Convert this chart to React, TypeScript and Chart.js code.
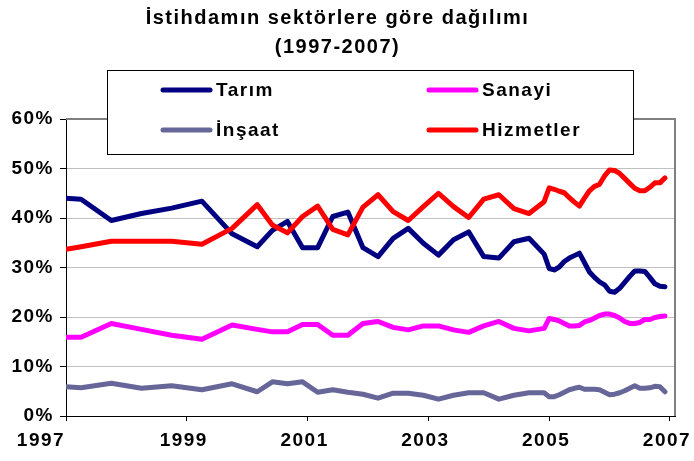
import React, { useEffect, useRef } from 'react';
import { Chart, registerables } from 'chart.js';

Chart.register(...registerables);

const FONT = "'Liberation Sans', Arial, Helvetica, sans-serif";

const titleLines = ['İstihdamın sektörlere göre dağılımı', '(1997-2007)'];

const periods = [
  '1997-01', '1997-04', '1997-10', '1998-04', '1998-10', '1999-04', '1999-10',
  '2000-03', '2000-06', '2000-09', '2000-12',
  '2001-03', '2001-06', '2001-09', '2001-12',
  '2002-03', '2002-06', '2002-09', '2002-12',
  '2003-03', '2003-06', '2003-09', '2003-12',
  '2004-03', '2004-06', '2004-09', '2004-12',
  '2005-01', '2005-02', '2005-03', '2005-04', '2005-05', '2005-06',
  '2005-07', '2005-08', '2005-09', '2005-10', '2005-11', '2005-12',
  '2006-01', '2006-02', '2006-03', '2006-04', '2006-05', '2006-06',
  '2006-07', '2006-08', '2006-09', '2006-10', '2006-11', '2006-12',
];

const tarim = [
  44.0, 43.8, 39.5, 40.9, 42.0, 43.4, 36.8,
  34.2, 37.5, 39.3, 34.0,
  34.0, 40.3, 41.2, 34.0,
  32.2, 35.9, 37.9, 34.9,
  32.5, 35.6, 37.2, 32.2,
  31.9, 35.2, 35.9, 32.7,
  29.8, 29.5, 30.1, 31.2, 31.9, 32.4, 32.9, 31.0, 29.1, 28.0, 27.1, 26.5,
  25.2, 25.0, 25.8, 27.0, 28.2, 29.3, 29.3, 29.2, 28.0, 26.7, 26.2, 26.1,
];

const sanayi = [
  15.9, 15.9, 18.7, 17.5, 16.3, 15.5, 18.4,
  17.5, 17.0, 17.0, 18.5,
  18.5, 16.3, 16.3, 18.7,
  19.1, 17.9, 17.4, 18.2,
  18.2, 17.4, 16.9, 18.2,
  19.1, 17.7, 17.2, 17.7,
  19.7, 19.5, 19.2, 18.7, 18.2, 18.2, 18.3, 19.0, 19.3, 19.8, 20.3, 20.6,
  20.6, 20.3, 19.8, 19.1, 18.7, 18.7, 18.9, 19.5, 19.5, 19.9, 20.1, 20.2,
];

const insaat = [
  5.9, 5.7, 6.6, 5.6, 6.1, 5.3, 6.5,
  4.9, 6.9, 6.5, 6.9,
  4.8, 5.3, 4.8, 4.4,
  3.6, 4.6, 4.6, 4.2,
  3.4, 4.2, 4.7, 4.7,
  3.4, 4.2, 4.7, 4.7,
  3.9, 3.9, 4.3, 4.8, 5.3, 5.6, 5.8, 5.4, 5.4, 5.4, 5.3, 4.8,
  4.3, 4.4, 4.7, 5.1, 5.6, 6.1, 5.6, 5.6, 5.7, 6.0, 5.9, 4.9,
];

const hizmetler = [
  33.7, 34.2, 35.3, 35.3, 35.3, 34.7, 37.9,
  42.7, 38.6, 37.0, 40.3,
  42.4, 37.7, 36.6, 42.2,
  44.7, 41.3, 39.5, 42.3,
  45.0, 42.3, 40.1, 43.8,
  44.7, 41.9, 40.9, 43.3,
  46.1, 45.8, 45.4, 45.1, 44.1, 43.2, 42.4, 44.0, 45.5, 46.4, 46.8, 48.5,
  49.7, 49.6, 49.0, 48.0, 47.0, 46.0, 45.5, 45.5, 46.2, 47.1, 47.1, 48.1,
];

const seriesNames = ['Tarım', 'Sanayi', 'İnşaat', 'Hizmetler'];
const seriesColors = ['#000080', '#FF00FF', '#666699', '#FF0000'];
const xTickYears = [1997, 1999, 2001, 2003, 2005, 2007];
const yTicks = [0, 10, 20, 30, 40, 50, 60];

const toYear = (p: string) => {
  const [y, m] = p.split('-').map(Number);
  return y + (m - 1) / 12;
};

const toPoints = (vals: number[]) => vals.map((v, i) => ({ x: toYear(periods[i]), y: v }));

const frameAndLegend = {
  id: 'frameAndLegend',
  beforeDraw(chart: any) {
    const ctx = chart.ctx;
    try { ctx.letterSpacing = '1.5px'; } catch (e) {}
    try {
      const xs = chart.scales.x;
      const items = xs.getLabelItems();
      if (items && items[0] && !items[0].__shifted) {
        items[0].options.translation[0] -= 22;
        items[0].__shifted = true;
      }
    } catch (e) {}
  },
  afterDatasetsDraw(chart: any) {
    const { ctx, chartArea: a } = chart;
    ctx.save();
    ctx.strokeStyle = '#808080';
    ctx.lineWidth = 2;
    ctx.beginPath();
    ctx.moveTo(a.left, a.top);
    ctx.lineTo(a.right, a.top);
    ctx.lineTo(a.right, a.bottom);
    ctx.stroke();
    ctx.restore();
  },
  afterDraw(chart: any) {
    const ctx = chart.ctx;
    const bx = 107, by = 70, bw = 526, bh = 84;
    ctx.save();
    ctx.fillStyle = '#ffffff';
    ctx.fillRect(bx, by, bw, bh);
    ctx.strokeStyle = '#000000';
    ctx.lineWidth = 1;
    ctx.strokeRect(bx + 0.5, by + 0.5, bw, bh);
    ctx.font = `bold 19px ${FONT}`;
    try { ctx.letterSpacing = '1.5px'; } catch (e) {}
    ctx.textBaseline = 'middle';
    ctx.textAlign = 'left';
    chart.data.datasets.forEach((ds: any, i: number) => {
      const col = i % 2;
      const row = Math.floor(i / 2);
      const lx = col === 0 ? 163 : 429;
      const ly = row === 0 ? 90 : 130;
      ctx.strokeStyle = ds.borderColor;
      ctx.lineWidth = 5;
      ctx.lineCap = 'round';
      ctx.beginPath();
      ctx.moveTo(lx, ly);
      ctx.lineTo(lx + 47, ly);
      ctx.stroke();
      ctx.fillStyle = '#000000';
      ctx.fillText(ds.label, lx + 53, ly + 1);
    });
    ctx.restore();
  },
};

export default function App() {
  const ref = useRef<HTMLCanvasElement | null>(null);

  useEffect(() => {
    if (!ref.current) return;
    const allSeries = [tarim, sanayi, insaat, hizmetler];
    const chart = new Chart(ref.current, {
      type: 'line',
      data: {
        datasets: allSeries.map((vals, i) => ({
          label: seriesNames[i],
          data: toPoints(vals),
          borderColor: seriesColors[i],
          backgroundColor: seriesColors[i],
          borderWidth: 5,
          pointRadius: 0,
          tension: 0,
          borderJoinStyle: 'round',
          borderCapStyle: 'round',
          order: 4 - i,
        })),
      },
      options: {
        animation: false,
        responsive: false,
        devicePixelRatio: 1,
        layout: { padding: { left: 0, right: 19, top: 0, bottom: 0 } },
        plugins: {
          legend: { display: false },
          tooltip: { enabled: false },
          title: {
            display: true,
            text: titleLines,
            color: '#000',
            font: { family: FONT, size: 20, weight: 'bold', lineHeight: 1.45 },
            padding: { top: 4, bottom: 57 },
          },
        },
        scales: {
          x: {
            type: 'linear',
            min: 1997,
            max: 2007.083,
            afterBuildTicks: (s: any) => {
              s.ticks = xTickYears.map((v) => ({ value: v }));
            },
            afterFit: (s: any) => {
              s.height = 45;
              s.paddingLeft = 0;
              s.paddingRight = 0;
            },
            grid: {
              drawOnChartArea: false,
              drawTicks: true,
              tickLength: 5,
              tickColor: '#000',
            },
            border: { display: true, color: '#000', width: 1 },
            ticks: {
              autoSkip: false,
              maxRotation: 0,
              padding: 8,
              labelOffset: -3,
              color: '#000',
              font: { family: FONT, size: 19, weight: 'bold' },
              callback: (v: any) => String(v),
            },
          },
          y: {
            min: 0,
            max: 60,
            afterBuildTicks: (s: any) => {
              s.ticks = yTicks.map((v) => ({ value: v }));
            },
            afterFit: (s: any) => {
              s.width = 66;
            },
            grid: {
              color: (c: any) =>
                c.tick && (c.tick.value === 0 || c.tick.value === 60) ? 'rgba(0,0,0,0)' : '#c0c0c0',
              lineWidth: 1,
              tickLength: 6,
              tickColor: '#000',
            },
            border: { display: true, color: '#000', width: 1 },
            ticks: {
              padding: 6,
              color: '#000',
              font: { family: FONT, size: 19, weight: 'bold' },
              callback: (v: any) => `${v}%`,
            },
          },
        },
      },
      plugins: [frameAndLegend],
    } as any);
    return () => chart.destroy();
  }, []);

  return (
    <div style={{ position: 'absolute', left: 0, top: 0, width: 694, height: 461, background: '#fff' }}>
      <canvas ref={ref} width={694} height={461} style={{ display: 'block' }} />
    </div>
  );
}
